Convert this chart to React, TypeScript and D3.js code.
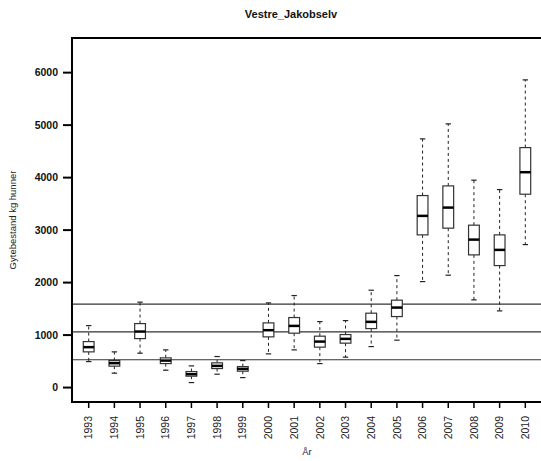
import React from "react";
import * as d3 from "d3";

const years = [
  "1993", "1994", "1995", "1996", "1997", "1998", "1999", "2000", "2001",
  "2002", "2003", "2004", "2005", "2006", "2007", "2008", "2009", "2010",
];
// whisker low, Q1, median, Q3, whisker high
const lowWhisker = [495, 274, 655, 331, 95, 255, 190, 642, 718, 457, 579, 781, 903, 2019, 2141, 1671, 1461, 2724];
const q1 = [680, 408, 933, 457, 217, 362, 312, 966, 1036, 770, 846, 1124, 1353, 2909, 3037, 2528, 2324, 3684];
const medians = [770, 465, 1067, 514, 255, 413, 356, 1093, 1175, 876, 928, 1252, 1524, 3271, 3429, 2819, 2623, 4103];
const q3 = [876, 514, 1219, 566, 305, 471, 400, 1232, 1334, 979, 1010, 1417, 1665, 3658, 3842, 3094, 2909, 4572];
const highWhisker = [1181, 680, 1627, 718, 413, 591, 514, 1613, 1753, 1257, 1276, 1855, 2134, 4738, 5024, 3951, 3772, 5862];
const refLines = [530, 1060, 1590];
const yTicks = [0, 1000, 2000, 3000, 4000, 5000, 6000];

const W = 541;
const H = 461;
const left = 72;
const right = 542;
const top = 38;
const bottom = 402;

const App: React.FC = () => {
  const x = d3.scaleLinear().domain([0.35, 18.65]).range([left, right]);
  const y = d3.scaleLinear().domain([-275, 6660]).range([bottom, top]);
  const boxW = 0.42;
  const half = (x(1 + boxW / 2) - x(1));
  const font = "'Liberation Sans', Arial, sans-serif";

  return (
    <svg width={W} height={H} style={{ position: "absolute", left: 0, top: 0 }} fontFamily={font}>
      <rect width={W} height={H} fill="#fff" />
      <text x={291} y={18} textAnchor="middle" fontSize={11} fontWeight="bold" fill="#111">
        Vestre_Jakobselv
      </text>

      {refLines.map((v) => (
        <line key={v} x1={left} x2={right} y1={y(v)} y2={y(v)} stroke="#333" strokeWidth={1.2} />
      ))}

      {years.map((yr, i) => {
        const cx = x(i + 1);
        return (
          <g key={yr}>
            <line x1={cx} x2={cx} y1={y(q3[i])} y2={y(highWhisker[i])} stroke="#222" strokeWidth={1} strokeDasharray="3,3" />
            <line x1={cx} x2={cx} y1={y(q1[i])} y2={y(lowWhisker[i])} stroke="#222" strokeWidth={1} strokeDasharray="3,3" />
            <line x1={cx - half / 2} x2={cx + half / 2} y1={y(highWhisker[i])} y2={y(highWhisker[i])} stroke="#222" strokeWidth={1.2} />
            <line x1={cx - half / 2} x2={cx + half / 2} y1={y(lowWhisker[i])} y2={y(lowWhisker[i])} stroke="#222" strokeWidth={1.2} />
            <rect x={cx - half} y={y(q3[i])} width={half * 2} height={y(q1[i]) - y(q3[i])} fill="#fff" stroke="#333" strokeWidth={1.2} />
            <line x1={cx - half} x2={cx + half} y1={y(medians[i])} y2={y(medians[i])} stroke="#000" strokeWidth={2.5} />
          </g>
        );
      })}

      {/* axes frame */}
      <path d={`M${right + 2},${top} H${left} V${bottom} H${right + 2}`} fill="none" stroke="#000" strokeWidth={2} />

      {yTicks.map((t) => (
        <g key={t}>
          <line x1={left - 9} x2={left} y1={y(t)} y2={y(t)} stroke="#000" strokeWidth={2} />
          <text x={58} y={y(t)} dy="0.35em" textAnchor="end" fontSize={10.5} fontWeight="bold" fill="#111">
            {t}
          </text>
        </g>
      ))}

      {years.map((yr, i) => (
        <g key={yr}>
          <line x1={x(i + 1)} x2={x(i + 1)} y1={bottom} y2={bottom + 6} stroke="#000" strokeWidth={1.5} />
          <text
            transform={`translate(${x(i + 1)},${416}) rotate(-90)`}
            textAnchor="end"
            dy="0.35em"
            fontSize={10.5}
            fill="#222"
          >
            {yr}
          </text>
        </g>
      ))}

      <text x={(left + right) / 2} y={455} textAnchor="middle" fontSize={9.5} fill="#222">
        År
      </text>
      <text transform={`translate(16,${(top + bottom) / 2}) rotate(-90)`} textAnchor="middle" fontSize={9.5} fill="#222">
        Gytebestand kg hunner
      </text>
    </svg>
  );
};

export default App;
